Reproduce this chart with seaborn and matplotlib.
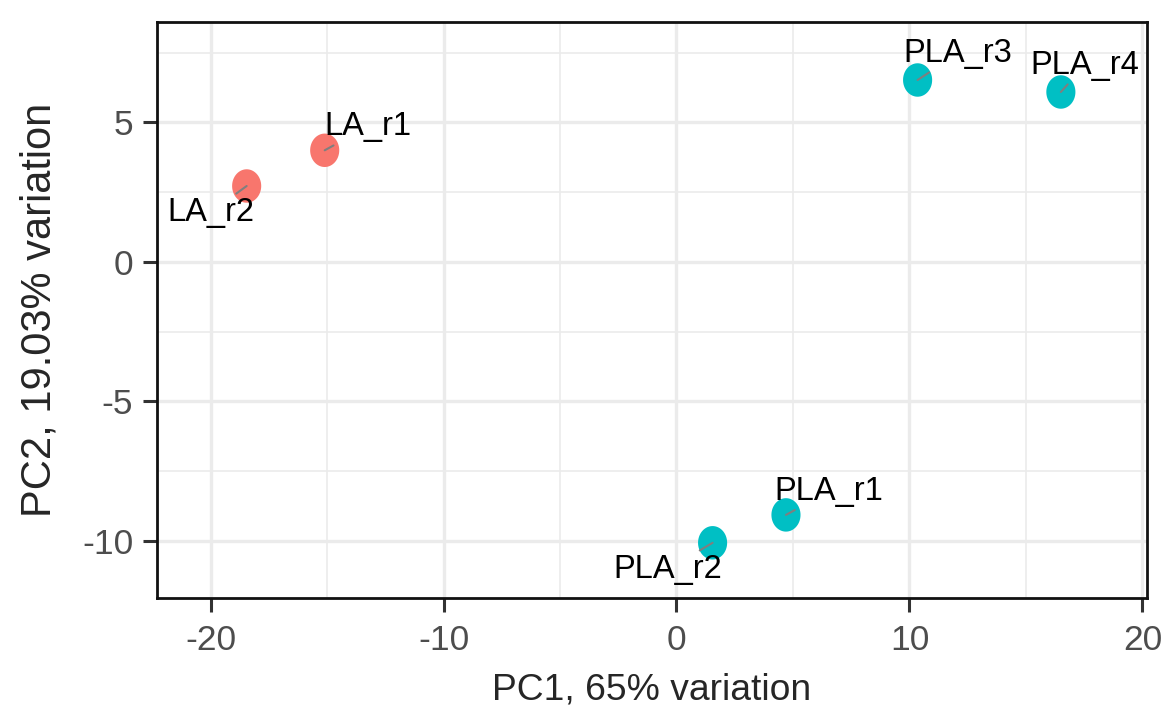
import numpy as np
import pandas as pd
import matplotlib
matplotlib.use("Agg")
import matplotlib.pyplot as plt
from matplotlib.markers import MarkerStyle
from matplotlib.ticker import MultipleLocator
import seaborn as sns

# PCA scores
samples = ['LA_r1', 'LA_r2', 'PLA_r1', 'PLA_r2', 'PLA_r3', 'PLA_r4']
groups = ['LA', 'LA', 'PLA', 'PLA', 'PLA', 'PLA']
pc1 = [-15.1, -18.45, 4.7, 1.55, 10.35, 16.5]
pc2 = [4.0, 2.72, -9.07, -10.07, 6.52, 6.09]

# label offsets (points) from each point, like ggrepel placed them
label_offsets = [(31, 17), (-26, -19), (31, 17), (-32, -19), (29, 19), (17, 19)]

df = pd.DataFrame({'sample': samples, 'group': groups, 'PC1': pc1, 'PC2': pc2})

sns.set_style("white")
plt.rcParams['font.family'] = ['Liberation Sans', 'DejaVu Sans']
plt.rcParams['axes.unicode_minus'] = False

fig = plt.figure(figsize=(11.61, 7.18), dpi=100)
ax = fig.add_axes([0.1352, 0.1671, 0.8528, 0.8023])

# slightly tall ellipse marker
t = np.linspace(0, 2 * np.pi, 60)
ellipse = MarkerStyle(np.column_stack([0.87 * np.cos(t), np.sin(t)]))

sns.scatterplot(data=df, x='PC1', y='PC2', hue='group',
                palette={'LA': '#F8766D', 'PLA': '#00BFC4'},
                marker=ellipse, s=580, linewidth=0, legend=False, ax=ax, zorder=2)

for (name, x, y), (dx, dy) in zip(zip(samples, pc1, pc2), label_offsets):
    ax.annotate(name, xy=(x, y), xytext=(dx, dy), textcoords='offset points',
                ha='center', va='center', fontsize=23.5, color='black',
                arrowprops=dict(arrowstyle='-', color='#7f7f7f', lw=1.5,
                                shrinkA=0, shrinkB=0), zorder=3)

ax.set_xlim(-22.3, 20.2)
ax.set_ylim(-12.05, 8.6)
ax.xaxis.set_major_locator(MultipleLocator(10))
ax.xaxis.set_minor_locator(MultipleLocator(5))
ax.yaxis.set_major_locator(MultipleLocator(5))
ax.yaxis.set_minor_locator(MultipleLocator(2.5))
ax.set_axisbelow(True)
ax.grid(which='major', color='#EBEBEB', linewidth=2.4)
ax.grid(which='minor', color='#EBEBEB', linewidth=1.2)

for sp in ax.spines.values():
    sp.set_color('#111111')
    sp.set_linewidth(2.0)

ax.tick_params(which='major', direction='out', length=10, width=2.2,
               color='#333333', labelsize=25.5, labelcolor='#4D4D4D',
               bottom=True, left=True)
ax.tick_params(axis='x', pad=9)
ax.tick_params(axis='y', pad=7)
ax.tick_params(which='minor', length=0)

ax.set_xlabel('PC1, 65% variation', fontsize=26.8, labelpad=11)
ax.set_ylabel('PC2, 19.03% variation', fontsize=30, labelpad=16)

fig.savefig('out.png', dpi=100)
